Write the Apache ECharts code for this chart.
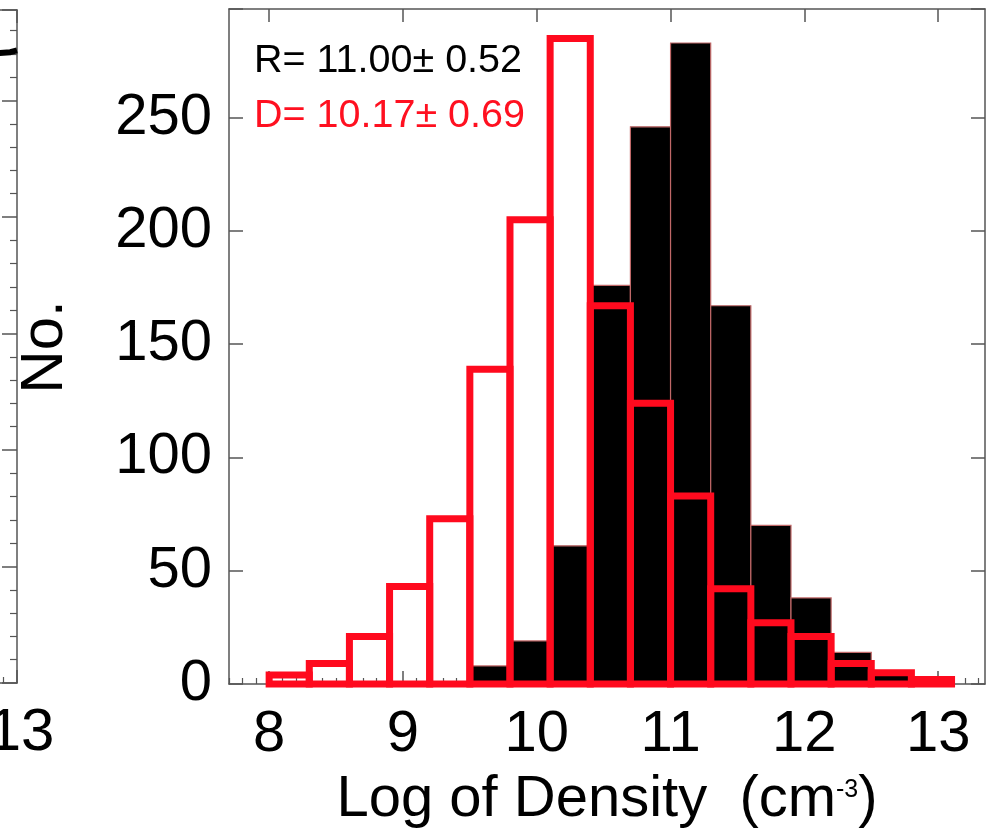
<!DOCTYPE html>
<html><head><meta charset="utf-8">
<script src="https://cdn.jsdelivr.net/npm/echarts@6/dist/echarts.min.js"></script>
<style>html,body{margin:0;padding:0;background:#fff;overflow:hidden}#c{width:992px;height:836px}</style>
</head><body><div id="c"></div>
<script>
// ---- data ----
const binStarts = [8.0, 8.3, 8.6, 8.9, 9.2, 9.5, 9.8, 10.1, 10.4, 10.7, 11.0, 11.3, 11.6, 11.9, 12.2, 12.5, 12.8];
const binWidth = 0.3;
const blackCounts = [0, 0, 0, 0, 1, 8, 19, 61, 176, 246, 283, 167, 70, 38, 14, 5, 1];
const redCounts = [4, 9, 21, 43, 73, 139, 205, 285, 167, 124, 83, 42, 27, 21, 9, 5, 2];
const xTickLabels = [8, 9, 10, 11, 12, 13];
const yTickLabels = [0, 50, 100, 150, 200, 250];
const statR = 'R= 11.00\u00b1 0.52';
const statD = 'D= 10.17\u00b1 0.69';
const xTitleMain = 'Log of Density  (cm';
const xTitleSup = '-3';
const yTitle = 'No.';
// fragment of neighbouring panel (curve end visible at the left edge)
const leftCurve = [[12.8, 5.40], [12.95, 5.415], [13.0, 5.43]];
const leftXLabels = [8, 9, 10, 11, 12, 13];

// ---- build ----
const FONT = '"Liberation Sans", Arial, Helvetica, sans-serif';
const AX = '#555';
function minorTicks(a, b) {
  const out = [];
  for (let i = Math.round(a * 10); i <= Math.round(b * 10); i++) {
    if (i % 10 !== 0) out.push(i / 10);
  }
  return out;
}
const blackData = binStarts.map((s, i) => [s, +(s + binWidth).toFixed(2), blackCounts[i]]);
const redData = binStarts.map((s, i) => [s, +(s + binWidth).toFixed(2), redCounts[i]]);

function makeRender(style) {
  return function (params, api) {
    const v = api.value(2);
    if (!v) return null;
    const p0 = api.coord([api.value(0), 0]);
    const p1 = api.coord([api.value(1), v]);
    return {
      type: 'rect',
      shape: { x: p0[0], y: p1[1], width: p1[0] - p0[0], height: p0[1] - p1[1] },
      style: style
    };
  };
}

const chart = echarts.init(document.getElementById('c'), null, { renderer: 'canvas' });
const XMIN = 7.7, XMAX = 13.35, YMAX = 298;
const option = {
  animation: false,
  backgroundColor: '#fff',
  textStyle: { fontFamily: FONT },
  grid: [
    { left: 229, right: 7, top: 9, bottom: 152, outerBoundsMode: 'none', containLabel: false },
    { left: -720, right: 975, top: 10, bottom: 153, outerBoundsMode: 'none', containLabel: false }
  ],
  xAxis: [
    { // main bottom: major ticks + labels + title
      type: 'value', gridIndex: 0, min: XMIN, max: XMAX, position: 'bottom',
      axisLine: { show: true, onZero: false, lineStyle: { color: AX, width: 1.5 } },
      axisTick: { show: true, inside: true, length: 13, customValues: xTickLabels, lineStyle: { color: AX, width: 1.5 } },
      axisLabel: { customValues: xTickLabels, fontSize: 58, color: '#000', margin: 22, fontFamily: FONT },
      splitLine: { show: false },
      name: '{a|' + xTitleMain + '}{s|' + xTitleSup + '}{a|)}',
      nameLocation: 'middle', nameGap: 80,
      nameTextStyle: {
        fontFamily: FONT, color: '#000',
        rich: {
          a: { fontSize: 58, fontFamily: FONT, color: '#000', lineHeight: 62 },
          s: { fontSize: 25, fontFamily: FONT, color: '#000', verticalAlign: 'top', lineHeight: 25, padding: [9, 0, 0, 0] }
        }
      }
    },
    { // main bottom minor ticks
      type: 'value', gridIndex: 0, min: XMIN, max: XMAX, position: 'bottom',
      axisLine: { show: false, onZero: false },
      axisTick: { show: true, inside: true, length: 6, customValues: minorTicks(7.7, 13.35), lineStyle: { color: AX, width: 1.2 } },
      axisLabel: { show: false }, splitLine: { show: false }
    },
    { // main top mirror
      type: 'value', gridIndex: 0, min: XMIN, max: XMAX, position: 'top',
      axisLine: { show: true, onZero: false, lineStyle: { color: AX, width: 1.5 } },
      axisTick: { show: true, inside: true, length: 13, customValues: xTickLabels, lineStyle: { color: AX, width: 1.5 } },
      axisLabel: { show: false }, splitLine: { show: false }
    },
    { // left panel bottom
      type: 'value', gridIndex: 1, min: 7.5, max: 13, position: 'bottom',
      axisLine: { show: true, onZero: false, lineStyle: { color: AX, width: 1.5 } },
      axisTick: { show: true, inside: true, length: 13, customValues: leftXLabels, lineStyle: { color: AX, width: 1.5 } },
      axisLabel: { customValues: leftXLabels, fontSize: 60, color: '#000', margin: 20, fontFamily: FONT, padding: [0, 0, 0, 8], hideOverlap: false },
      splitLine: { show: false }
    },
    { // left panel bottom minor
      type: 'value', gridIndex: 1, min: 7.5, max: 13, position: 'bottom',
      axisLine: { show: false, onZero: false },
      axisTick: { show: true, inside: true, length: 6, customValues: minorTicks(7.5, 13), lineStyle: { color: AX, width: 1.2 } },
      axisLabel: { show: false }, splitLine: { show: false }
    },
    { // left panel top
      type: 'value', gridIndex: 1, min: 7.5, max: 13, position: 'top',
      axisLine: { show: true, onZero: false, lineStyle: { color: AX, width: 1.5 } },
      axisTick: { show: true, inside: true, length: 13, customValues: leftXLabels, lineStyle: { color: AX, width: 1.5 } },
      axisLabel: { show: false }, splitLine: { show: false }
    }
  ],
  yAxis: [
    {
      type: 'value', gridIndex: 0, min: 0, max: YMAX, interval: 50, position: 'left',
      axisLine: { show: true, onZero: false, lineStyle: { color: AX, width: 1.5 } },
      axisTick: { show: true, inside: true, length: 14, lineStyle: { color: AX, width: 1.5 } },
      axisLabel: { fontSize: 58, color: '#000', margin: 17, fontFamily: FONT,
        formatter: v => (yTickLabels.indexOf(v) >= 0 ? String(v) : '') },
      splitLine: { show: false }
    },
    {
      type: 'value', gridIndex: 0, min: 0, max: YMAX, interval: 50, position: 'right',
      axisLine: { show: true, onZero: false, lineStyle: { color: AX, width: 1.5 } },
      axisTick: { show: true, inside: true, length: 14, lineStyle: { color: AX, width: 1.5 } },
      axisLabel: { show: false }, splitLine: { show: false }
    },
    { // left panel right side axis
      type: 'value', gridIndex: 1, min: 0, max: 5.777, interval: 1, position: 'right',
      axisLine: { show: true, onZero: false, lineStyle: { color: AX, width: 1.5 } },
      axisTick: { show: true, inside: true, length: 15, lineStyle: { color: AX, width: 1.5 } },
      minorTick: { show: true, splitNumber: 5, length: 7, lineStyle: { color: AX, width: 1.2 } },
      axisLabel: { show: false }, splitLine: { show: false }
    }
  ],
  series: [
    {
      type: 'custom', name: 'R', xAxisIndex: 0, yAxisIndex: 0, data: blackData,
      encode: { x: [0, 1], y: 2 }, clip: false,
      renderItem: makeRender({ fill: '#000', stroke: '#c06868', lineWidth: 1.2 })
    },
    {
      type: 'custom', name: 'D', xAxisIndex: 0, yAxisIndex: 0, data: redData,
      encode: { x: [0, 1], y: 2 }, clip: false, z: 3,
      renderItem: makeRender({ fill: 'none', stroke: '#ff0a1e', lineWidth: 7 })
    },
    {
      type: 'line', xAxisIndex: 3, yAxisIndex: 2, data: leftCurve, showSymbol: false,
      lineStyle: { color: '#000', width: 6, cap: 'butt' }, clip: true
    }
  ],
  graphic: [
    { type: 'text', left: 254, top: 41, style: { text: statR, font: '39.5px ' + FONT, fill: '#000' } },
    { type: 'text', left: 254, top: 96, style: { text: statD, font: '39.5px ' + FONT, fill: '#ff1020' } },
    { type: 'text', x: 45, y: 347, rotation: Math.PI / 2,
      style: { text: yTitle, font: '60px ' + FONT, fill: '#000', align: 'center', verticalAlign: 'middle' } }
  ]
};
chart.setOption(option);
</script>
</body></html>
